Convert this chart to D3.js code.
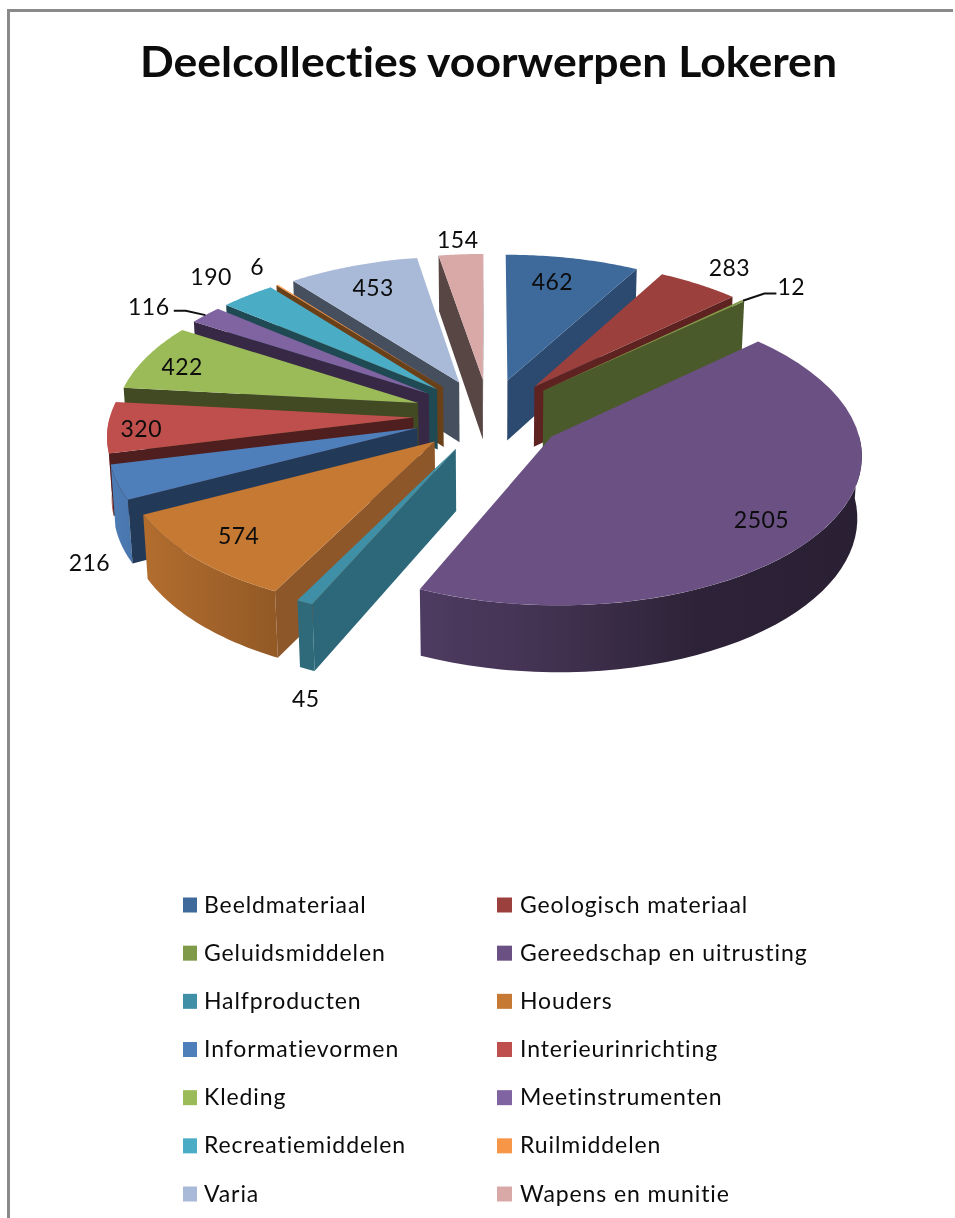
<!DOCTYPE html>
<html><head><meta charset="utf-8">
<style>html,body{margin:0;padding:0;background:#fff}svg{display:block;filter:blur(0.4px)}text{font-family:Lato,"Open Sans",sans-serif;fill:#0c0c0c;font-variant-ligatures:none}</style>
<script src="https://cdn.jsdelivr.net/npm/d3@7"></script></head>
<body><svg id="c" width="955" height="1218"></svg>
<script>
const titleText = "Deelcollecties voorwerpen Lokeren";
const categories = ["Beeldmateriaal","Geologisch materiaal","Geluidsmiddelen","Gereedschap en uitrusting","Halfproducten","Houders","Informatievormen","Interieurinrichting","Kleding","Meetinstrumenten","Recreatiemiddelen","Ruilmiddelen","Varia","Wapens en munitie"];
const values = [462,283,12,2505,45,574,216,320,422,116,190,6,453,154];
const topColors = ["#3E6A9B","#9B403D","#7F9A48","#6A5083","#3F8FA6","#C67933","#4F7FBA","#BE4F4C","#9BBB59","#8064A2","#4BACC6","#F79646","#A9BAD8","#D9A9A8"];
const sideColors = ["#2C4A6F","#5E2220","#4B5A2A","#4A3860","#2C6879","#8E5729","#223A58","#4F1E1E","#414A22","#372945","#1F4A54","#6A4018","#464F5E","#584644"];
const labelOffsets = [[45,-99],[195,-119],[248,-104],[210,83],[-150,250],[-196,95],[-328,135],[-272,12],[-236,-36],[-280,-87],[-226,-112],[-186,-120],[-86,-94],[-25,-140]];

const cam = {cx:489, cy:415, f:303, g:146, h:61, p:0.106, q:0.012, explode:0.25};
const svg = d3.select("#c");
const color = d3.scaleOrdinal(categories, topColors);
const sideColor = d3.scaleOrdinal(categories, sideColors);
const line = d3.line();
const project = (X,Y,Z) => {
  const d = 1 + cam.p*Y + cam.q*Z;
  return [cam.cx + cam.f*X/d, cam.cy - cam.g*Y/d + cam.h*Z/(1+cam.p*Y)];
};
const arcs = d3.pie().sort(null).value(d=>d.value)(categories.map((name,i)=>({name,value:values[i],i})));
const defs = svg.append("defs");

// picture frame
svg.append("path").attr("d","M8.5,1218 V10.5 H953").attr("fill","none").attr("stroke","#8a8a8a").attr("stroke-width",3);

svg.append("text").attr("x",488.5).attr("y",76.5).attr("text-anchor","middle").attr("font-weight",700)
  .attr("font-size",42).attr("textLength",697).attr("lengthAdjust","spacingAndGlyphs").text(titleText);

// shading of the curved walls along x
const shadeStops = [[100,1],[145,.9],[273,.74],[420,.74],[550,.62],[700,.42],[860,.40]];
arcs.forEach(a=>{
  const g = defs.append("linearGradient").attr("id","wall"+a.data.i).attr("gradientUnits","userSpaceOnUse")
    .attr("x1",100).attr("x2",860).attr("y1",0).attr("y2",0);
  shadeStops.forEach(([x,s])=>{
    const c = d3.rgb(color(a.data.name));
    g.append("stop").attr("offset",(x-100)/760).attr("stop-color",d3.rgb(c.r*s,c.g*s,c.b*s).formatHex());
  });
});

const pieG = svg.append("g");
const slices = arcs.map(a=>{
  const mid=(a.startAngle+a.endAngle)/2;
  const ox=cam.explode*Math.sin(mid), oy=cam.explode*Math.cos(mid);
  return {...a,mid,ox,oy,
    rim:(t,z)=>project(ox+Math.sin(t),oy+Math.cos(t),z),
    apex:z=>project(ox,oy,z)};
}).sort((p,q)=>Math.cos(q.mid)-Math.cos(p.mid));

const sample=(t0,t1)=>d3.range(0,41).map(k=>t0+(t1-t0)*k/40);
slices.forEach(s=>{
  const n=s.data.name, g=pieG.append("g");
  const sc=sideColor(n);
  // curved wall
  const lo=Math.max(s.startAngle,Math.PI*0.5), hi=Math.min(s.endAngle,Math.PI*1.5);
  if(hi>lo){
    const ts=sample(lo,hi);
    const pts=ts.map(t=>s.rim(t,0)).concat(ts.slice().reverse().map(t=>s.rim(t,1)));
    g.append("path").attr("d",line(pts)+"Z").attr("fill",`url(#wall${s.data.i})`);
  }
  // radial faces
  const face=t=>line([s.apex(0),s.rim(t,0),s.rim(t,1),s.apex(1)])+"Z";
  if(Math.sin(s.endAngle)>0) g.append("path").attr("d",face(s.endAngle)).attr("fill",sc);
  if(Math.sin(s.startAngle)<0) g.append("path").attr("d",face(s.startAngle)).attr("fill",sc);
  // top
  const top=[s.apex(0)].concat(sample(s.startAngle,s.endAngle).map(t=>s.rim(t,0)));
  g.append("path").attr("d",line(top)+"Z").attr("fill",color(n));
});

// data labels and leaders
const leaderNames = new Set(["Geluidsmiddelen","Meetinstrumenten"]);
slices.forEach(s=>{
  const [ax,ay]=s.apex(0), [ox,oy]=labelOffsets[s.data.i];
  const lx=ax+ox, ly=ay+oy;
  svg.append("text").attr("x",lx).attr("y",ly+8).attr("text-anchor","middle").attr("font-size",23).attr("letter-spacing",0.5).text(s.data.value);
  if(leaderNames.has(s.data.name)){
    const e=s.rim(s.mid,0), right=ox>0;
    const lead=[[lx+(right?-15:25),ly+(right?7:4)],[lx+(right?-27:37),ly+(right?7:4)],e];
    svg.append("path").attr("d",line(lead)).attr("fill","none").attr("stroke","#111").attr("stroke-width",2);
  }
});

// legend
const rowY=d3.scalePoint().domain(d3.range(7)).range([905,1194]);
const colX=[183,497];
const leg=svg.append("g").selectAll("g").data(categories).join("g")
  .attr("transform",(d,i)=>`translate(${colX[i%2]},${rowY(Math.floor(i/2))})`);
leg.append("rect").attr("x",0).attr("y",-7.5).attr("width",(d,i)=>i%2?15:14).attr("height",15).attr("fill",d=>color(d));
leg.append("text").attr("x",(d,i)=>i%2?23:21).attr("y",7.5).attr("font-size",23).attr("letter-spacing",0.9).text(d=>d);
</script></body></html>
